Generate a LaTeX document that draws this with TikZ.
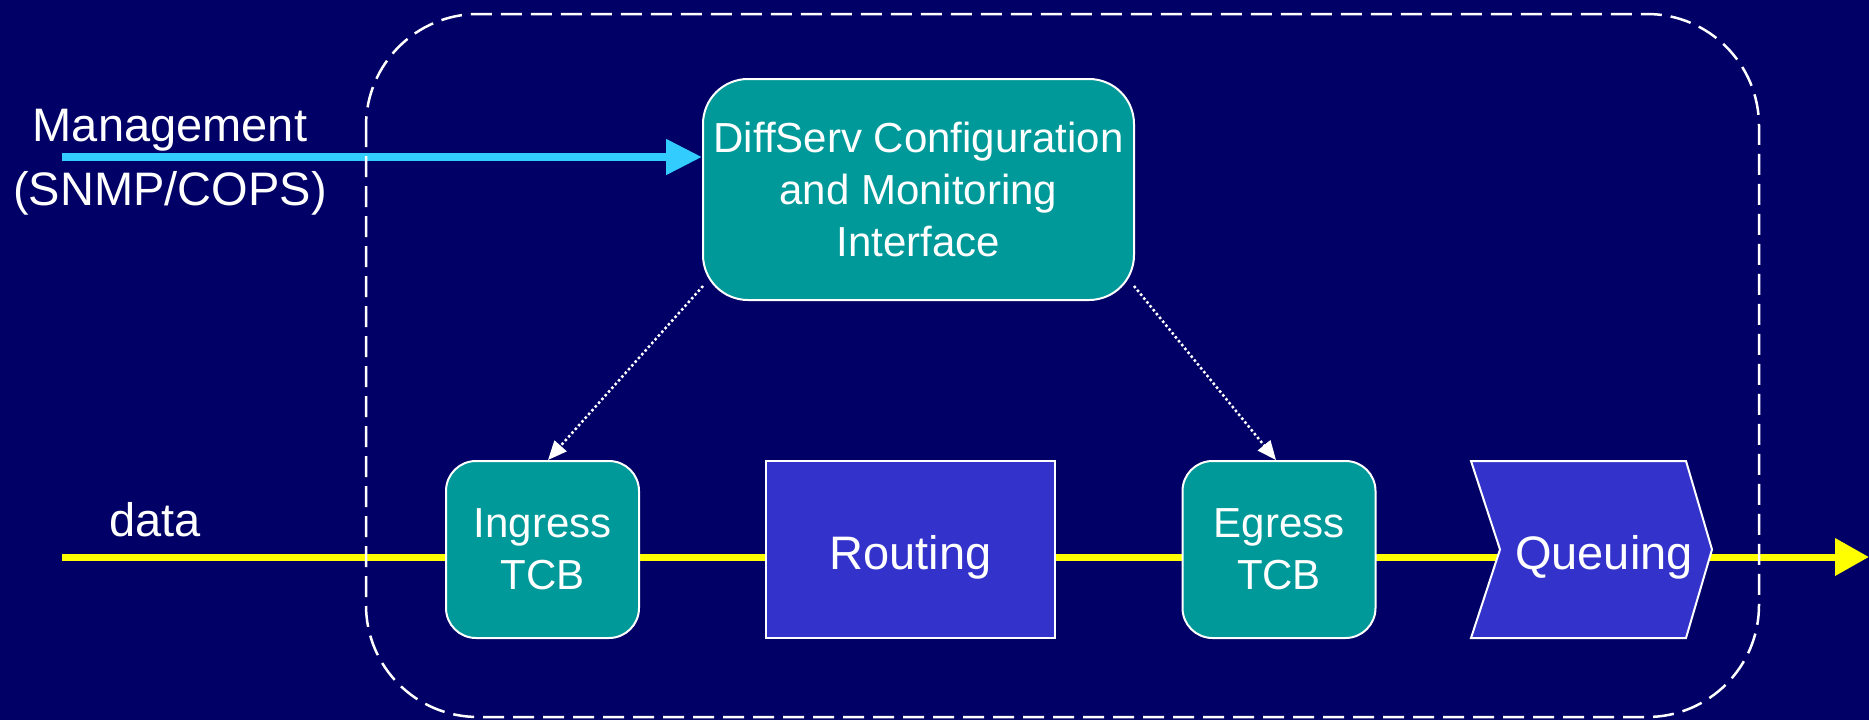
\documentclass[tikz,border=0pt]{standalone}
\usepackage{fontspec}
\setmainfont{Liberation Sans}
\usetikzlibrary{arrows.meta}

\definecolor{navy}{RGB}{0,0,102}
\definecolor{boxteal}{RGB}{0,153,153}
\definecolor{routeblue}{RGB}{51,51,204}
\definecolor{mgmtblue}{RGB}{51,204,255}
\definecolor{datayellow}{RGB}{255,255,0}

\tikzset{
  bigtext/.style={font=\fontsize{47}{54}\selectfont, text=white},
  boxtext/.style={font=\fontsize{42}{52}\selectfont, text=white, align=center},
  tcb/.style={boxtext, draw=white, line width=2pt, fill=boxteal, rounded corners=30pt,
              inner sep=0pt, minimum width=193pt, minimum height=177pt},
  config/.style={boxtext, draw=white, line width=2pt, fill=boxteal, rounded corners=45pt,
              inner sep=0pt, minimum width=431pt, minimum height=221pt},
  routebox/.style={draw=white, line width=2pt, fill=routeblue,
              inner sep=0pt, minimum width=289pt, minimum height=177pt},
  boundary/.style={draw=white, line width=2.5pt, dash pattern=on 21pt off 9pt, rounded corners=112pt},
  ctrl/.style={draw=white, line width=2.5pt, dash pattern=on 2.5pt off 2.5pt, -{Triangle[length=19pt,width=16pt]}},
  dataflow/.style={draw=datayellow, line width=7pt, -{Triangle[length=34pt,width=36pt]}},
  mgmtflow/.style={draw=mgmtblue, line width=8pt, -{Triangle[length=36pt,width=34pt]}},
}

\begin{document}
\begin{tikzpicture}[x=1pt, y=-1pt]
  % canvas
  \fill[navy] (0,0) rectangle (1869,720);
  \useasboundingbox (0,0) rectangle (1869,720);

  % end points of the two external flows
  \coordinate (datain) at (62,557);
  \coordinate (dataout) at (1869,557);
  \coordinate (mgmtin) at (62,157);

  % data path (drawn first so boxes sit on it)
  \draw[dataflow] (datain) -- (dataout);

  % management label and configuration box
  \node[bigtext, anchor=base] (mgmt) at (170,141) {Management};
  \node[bigtext, anchor=base] (mgmtproto) at (170,205) {(SNMP/COPS)};
  \node[bigtext, anchor=base] (data) at (155,536) {data};

  \node[config] (cfg) at (918.5,189.5) {DiffServ Configuration\\and Monitoring\\Interface};
  \draw[mgmtflow] (mgmtin) -- (mgmtin -| cfg.west);

  % device boundary
  \draw[boundary] (366,14) rectangle (1759,717);

  % processing blocks on the data path
  \node[tcb] (ingress) at (542.5,549.5) {Ingress\\TCB};
  \node[routebox] (routing) at (910.5,549.5) {};
  \node[bigtext, anchor=base] (routinglabel) at (910.5,569) {Routing};
  \node[tcb] (egress) at (1279,549.5) {Egress\\TCB};

  % queuing stage drawn as a chevron
  \draw[white, line width=2pt, fill=routeblue, line join=miter]
    (1471,461) -- (1686,461) -- (1712,549.5) -- (1686,638) -- (1471,638) -- (1500,549.5) -- cycle;
  \node[bigtext, anchor=base] (queue) at (1604,569) {Queuing};

  % control links from the configuration interface
  \coordinate (cfgl) at (703,286);
  \coordinate (cfgr) at (1134,286);
  \draw[ctrl] (cfgl) -- (ingress.north -| 548,0);
  \draw[ctrl] (cfgr) -- (egress.north -| 1276,0);
\end{tikzpicture}
\end{document}
